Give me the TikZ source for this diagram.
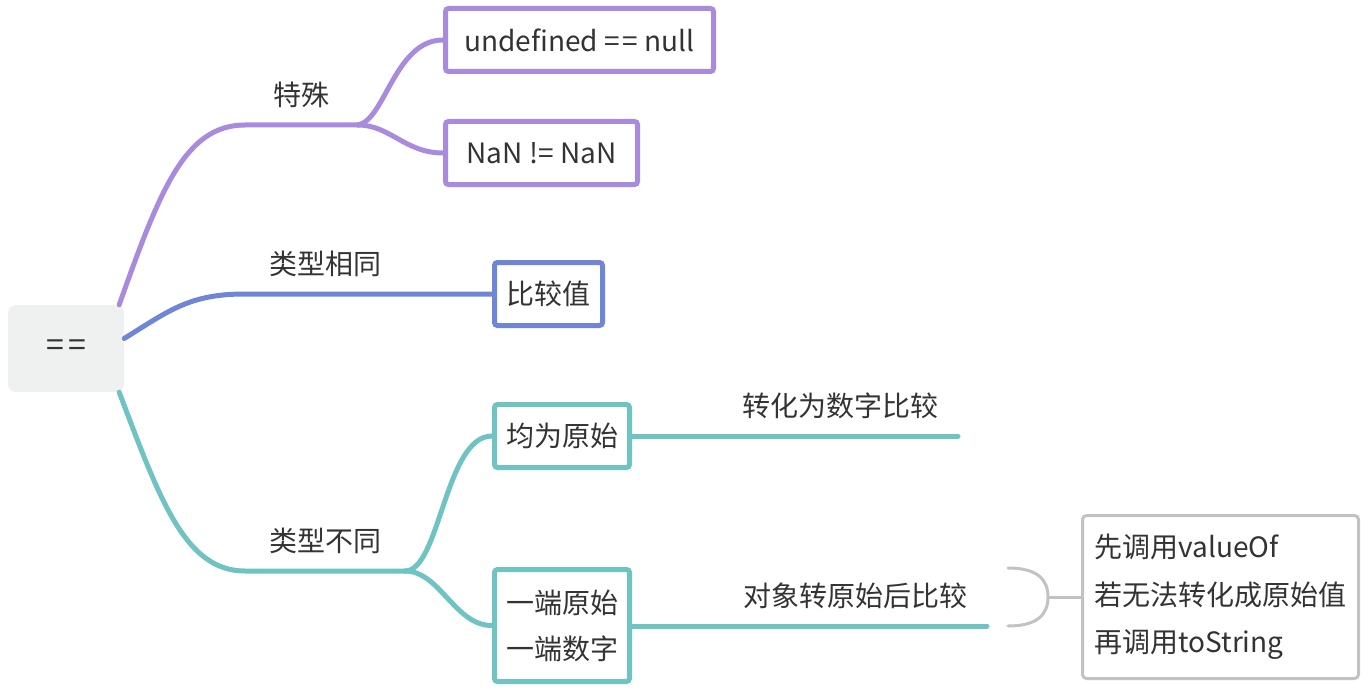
\documentclass[tikz,border=0pt]{standalone}
\usepackage{fontspec}
\setmainfont{Noto Sans CJK SC}
\usetikzlibrary{positioning}
\definecolor{violetX}{HTML}{A98BDE}
\definecolor{bleuX}{HTML}{6F86D6}
\definecolor{turquoiseX}{HTML}{6FC3C3}
\definecolor{grisX}{HTML}{C2C2C2}
\definecolor{fondX}{HTML}{EFF0F0}
\definecolor{texteX}{HTML}{333333}
\begin{document}
\begin{tikzpicture}[x=1pt,y=-1pt]
			\tikzstyle{branche}=[line width=5pt,line cap=round]
			\tikzstyle{boite}=[draw,line width=5pt,fill=white,rounded corners=3pt,inner sep=0pt,text=texteX,align=center,font=\fontsize{28}{46}\selectfont]
			\tikzstyle{poids}=[midway,above=15pt,inner sep=0pt,text=texteX,font=\fontsize{28}{34}\selectfont]
			\def\HautBoite{63pt}\def\EpaisGris{3pt}
			\useasboundingbox (0,0) rectangle (1370,690);
			%
			\node[fill=fondX,rounded corners=8pt,minimum width=116pt,minimum height=87pt,text=texteX,font=\fontsize{32}{34}\selectfont] (R) at (66,348.5) {=\kern4pt=};
			\node[boite,draw=violetX,minimum width=268pt,minimum height=\HautBoite] (Raa) at (579.5,40) {undefined =\kern3pt= null};
			\node[boite,draw=violetX,minimum width=192pt,minimum height=\HautBoite] (Rab) at (541.5,153) {NaN != NaN};
			\node[boite,draw=bleuX,minimum width=108pt,minimum height=\HautBoite] (Rba) at (548.5,294) {比较值};
			\node[boite,draw=turquoiseX,minimum width=135pt,minimum height=\HautBoite] (Rca) at (562,436) {均为原始};
			\node[boite,draw=turquoiseX,minimum width=135pt,minimum height=112pt] (Rcb) at (562,625.5) {一端原始\\一端数字};
			\node[boite,draw=grisX,line width=\EpaisGris,rounded corners=4pt,minimum width=276pt,minimum height=163pt,align=left,font=\fontsize{28}{47.5}\selectfont] (Rcbaa) at (1220.5,597) {先调用valueOf\\若无法转化成原始值\\再调用toString};
			%
			\coordinate (Ra) at (358,125);
			\coordinate (Rb) at (405,294);
			\coordinate (Rc) at (405,571);
			\coordinate (Rcaa) at (958,436);
			\coordinate (Rcba) at (987,626);
			\coordinate (AccH) at (1008,568);
			\coordinate (AccB) at (1008,626);
			\coordinate (AccM) at (1048,597);
			%
			\draw[branche,violetX] ([xshift=-5pt]R.north east) .. controls (160,190) and (185,125) .. (245,125) -- node[poids] (La) {特殊} (Ra);
			\draw[branche,violetX] (Ra) .. controls (385,120) and (395,40) .. (Raa.west);
			\draw[branche,violetX] (Ra) .. controls (390,125) and (405,153) .. (Rab.west);
			\draw[branche,bleuX] ([yshift=10pt]R.east) .. controls (170,310) and (190,294) .. (245,294) -- node[poids] (Lb) {类型相同} (Rb) -- (Rba.west);
			\draw[branche,turquoiseX] ([xshift=-5pt]R.south east) .. controls (160,500) and (185,571) .. (245,571) -- node[poids] (Lc) {类型不同} (Rc);
			\draw[branche,turquoiseX] (Rc) .. controls (440,571) and (445,436) .. (Rca.west);
			\draw[branche,turquoiseX] (Rc) .. controls (440,571) and (455,626) .. (Rcb.west);
			\draw[branche,turquoiseX] (Rca.east) -- node[poids,pos=0.64] (Lca) {转化为数字比较} (Rcaa);
			\draw[branche,turquoiseX] (Rcb.east |- Rcba) -- node[poids,pos=0.63] (Lcb) {对象转原始后比较} (Rcba);
			\draw[grisX,line width=\EpaisGris,line cap=round] (AccH) .. controls (1038,568) and (1048,580) .. (AccM) .. controls (1048,614) and (1038,626) .. (AccB);
			\draw[grisX,line width=\EpaisGris] (AccM) -- (Rcbaa.west);
		\end{tikzpicture}
\end{document}
